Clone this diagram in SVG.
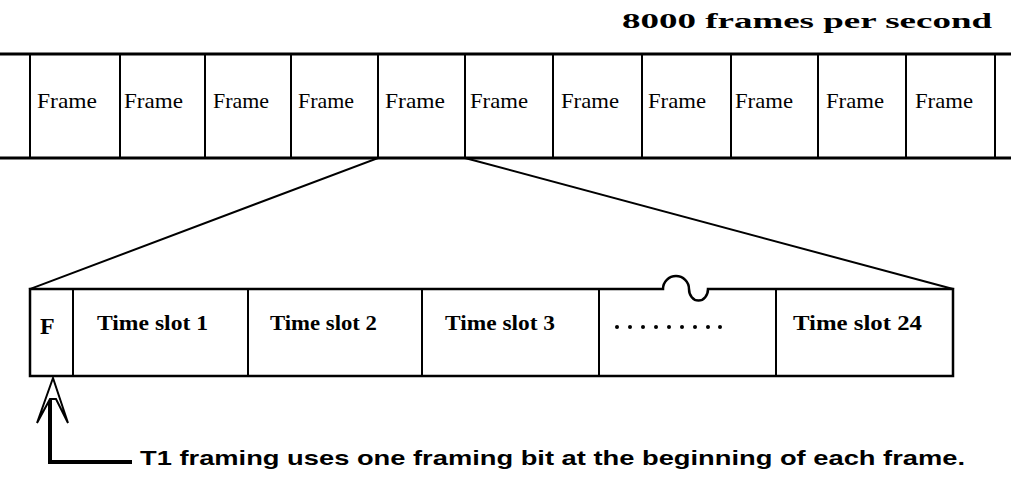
<svg xmlns="http://www.w3.org/2000/svg" width="1011" height="479" viewBox="0 0 1011 479">
<style>
.ln{stroke:#000;fill:none;stroke-linecap:square}
.fr{font-family:"Liberation Serif",serif;font-size:21px;fill:#000}
.ts{font-family:"Liberation Serif",serif;font-size:21px;font-weight:bold;fill:#000}
.cap{font-family:"Liberation Sans",Arial,sans-serif;font-size:21px;font-weight:bold;fill:#000}
</style>
<rect width="1011" height="479" fill="#fff"/>
<text class="ts" x="622" y="28" style="font-size:22px" textLength="370" lengthAdjust="spacingAndGlyphs">8000 frames per second</text>
<g id="frames">
<line class="ln" x1="0" y1="54" x2="1011" y2="54" stroke-width="3"/>
<line class="ln" x1="0" y1="158" x2="1011" y2="158" stroke-width="3"/>
<g stroke="#000" stroke-width="2">
<line x1="30" y1="54" x2="30" y2="158"/>
<line x1="120" y1="54" x2="120" y2="158"/>
<line x1="205" y1="54" x2="205" y2="158"/>
<line x1="291" y1="54" x2="291" y2="158"/>
<line x1="378" y1="54" x2="378" y2="158"/>
<line x1="465" y1="54" x2="465" y2="158"/>
<line x1="553" y1="54" x2="553" y2="158"/>
<line x1="642" y1="54" x2="642" y2="158"/>
<line x1="731" y1="54" x2="731" y2="158"/>
<line x1="818" y1="54" x2="818" y2="158"/>
<line x1="906" y1="54" x2="906" y2="158"/>
<line x1="995" y1="54" x2="995" y2="158"/>
</g>
<text class="fr" x="37" y="108" textLength="60" lengthAdjust="spacingAndGlyphs">Frame</text>
<text class="fr" x="124" y="108" textLength="59" lengthAdjust="spacingAndGlyphs">Frame</text>
<text class="fr" x="213" y="108" textLength="56" lengthAdjust="spacingAndGlyphs">Frame</text>
<text class="fr" x="298" y="108" textLength="56" lengthAdjust="spacingAndGlyphs">Frame</text>
<text class="fr" x="385" y="108" textLength="60" lengthAdjust="spacingAndGlyphs">Frame</text>
<text class="fr" x="470" y="108" textLength="58" lengthAdjust="spacingAndGlyphs">Frame</text>
<text class="fr" x="561" y="108" textLength="58" lengthAdjust="spacingAndGlyphs">Frame</text>
<text class="fr" x="648" y="108" textLength="58" lengthAdjust="spacingAndGlyphs">Frame</text>
<text class="fr" x="735" y="108" textLength="58" lengthAdjust="spacingAndGlyphs">Frame</text>
<text class="fr" x="826" y="108" textLength="58" lengthAdjust="spacingAndGlyphs">Frame</text>
<text class="fr" x="915" y="108" textLength="58" lengthAdjust="spacingAndGlyphs">Frame</text>
</g>
<g id="connectors">
<line class="ln" x1="378" y1="158" x2="30" y2="289" stroke-width="2"/>
<line class="ln" x1="465" y1="158" x2="953" y2="289" stroke-width="2"/>
<polyline class="ln" points="130,462 50,462 50,402" stroke-width="4" stroke-linecap="butt"/>
<polygon points="53,378 37,423 50,399 56,399 68,423" fill="#fff" stroke="#000" stroke-width="2" stroke-linejoin="miter"/>
</g>
<g id="t1frame">
<path class="ln" d="M30,289 H663 A13,13 0 0 1 689,289 A9,11 0 0 0 708,289 H953 V376 H30 Z" stroke-width="2.5" stroke-linejoin="miter"/>
<g stroke="#000" stroke-width="2">
<line x1="73" y1="289" x2="73" y2="376"/>
<line x1="248" y1="289" x2="248" y2="376"/>
<line x1="422" y1="289" x2="422" y2="376"/>
<line x1="599" y1="289" x2="599" y2="376"/>
<line x1="776" y1="289" x2="776" y2="376"/>
</g>
<text class="ts" x="40" y="334" style="font-size:24px">F</text>
<text class="ts" x="97" y="330" textLength="111" lengthAdjust="spacingAndGlyphs">Time slot 1</text>
<text class="ts" x="270" y="330" textLength="107" lengthAdjust="spacingAndGlyphs">Time slot 2</text>
<text class="ts" x="445" y="330" textLength="110" lengthAdjust="spacingAndGlyphs">Time slot 3</text>
<g fill="#000">
<circle cx="617" cy="327" r="2"/><circle cx="630" cy="327" r="2"/><circle cx="643" cy="327" r="2"/><circle cx="656" cy="327" r="2"/><circle cx="669" cy="327" r="2"/><circle cx="682" cy="327" r="2"/><circle cx="695" cy="327" r="2"/><circle cx="708" cy="327" r="2"/><circle cx="720" cy="327" r="2"/>
</g>
<text class="ts" x="793" y="330" textLength="129" lengthAdjust="spacingAndGlyphs">Time slot 24</text>
</g>
<text class="cap" x="140" y="465" textLength="825" lengthAdjust="spacingAndGlyphs">T1 framing uses one framing bit at the beginning of each frame.</text>
</svg>
